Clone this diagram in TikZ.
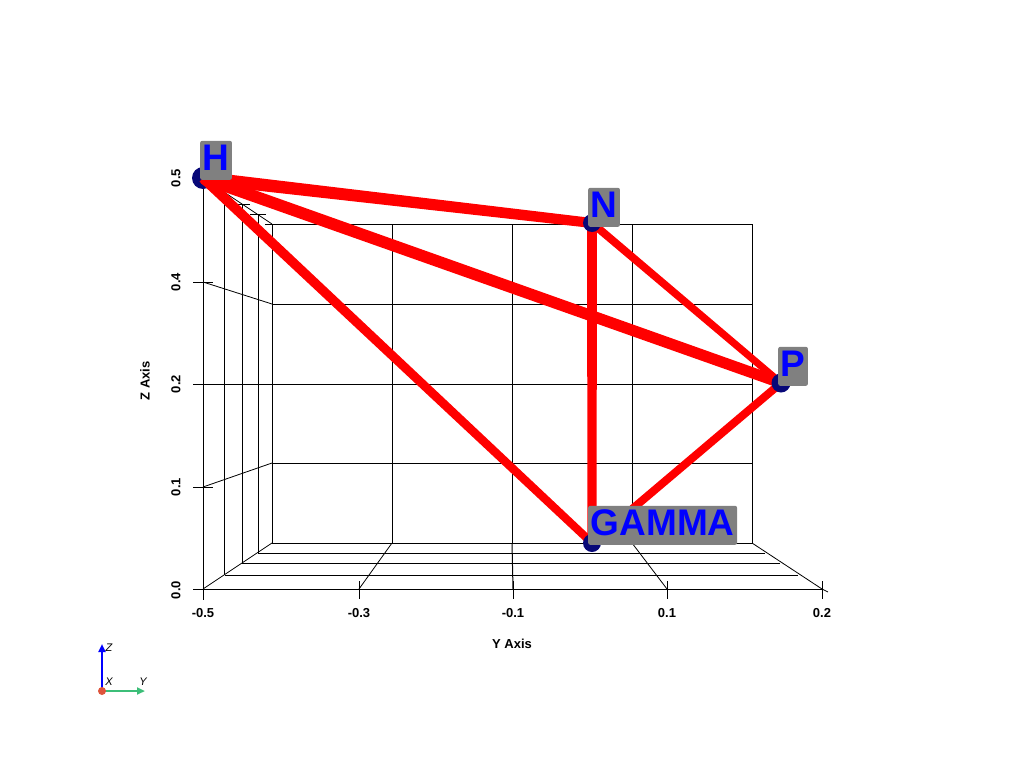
\documentclass[tikz,border=0pt]{standalone}
\usepackage{fontspec}
\setmainfont{Liberation Sans}
\usetikzlibrary{arrows.meta,calc}
\definecolor{navyball}{RGB}{8,8,120}
\definecolor{lblgray}{RGB}{128,128,128}
\definecolor{lblblue}{RGB}{0,0,255}
\definecolor{wgreen}{RGB}{60,190,120}
\definecolor{wred}{RGB}{222,84,60}
\begin{document}
\begin{tikzpicture}[x=1pt,y=-1pt,
  gridln/.style={black,line width=1pt},
  diagln/.style={black,line width=0.8pt},
  ball/.style={fill=navyball,draw=none},
  ptlabel/.style={fill=lblgray,text=lblblue,rounded corners=2pt,
    font=\fontsize{37}{37}\selectfont\bfseries,inner xsep=2.5pt,inner ysep=2pt,
    text height=28pt,text depth=7pt,anchor=south west},
  ticklbl/.style={font=\fontsize{13}{14}\selectfont\bfseries,inner sep=0pt},
  axtitle/.style={font=\fontsize{13}{14}\selectfont\bfseries,inner sep=0pt},
  wlbl/.style={font=\fontsize{11}{11}\selectfont\itshape,inner sep=0pt}]
\useasboundingbox (0,0) rectangle (1024,768);

% ---- back wall grid ----
\draw[gridln] (272,224) rectangle (752,543);
\foreach \xx in {392,512,632} \draw[gridln] (\xx,224) -- (\xx,543);
\foreach \yy in {304,384,463} \draw[gridln] (272,\yy) -- (752,\yy);

% ---- left wall grid ----
\draw[gridln] (203,178) -- (203,600);
\draw[gridln] (224,192) -- (224,575);
\draw[gridln] (242,204) -- (242,563);
\draw[gridln] (258,215) -- (258,553);
\draw[diagln] (203,178) -- (272,224);
\draw[diagln] (203,589) -- (272,543);
\draw[diagln] (203,282) -- (272,304);
\draw[gridln] (193,384) -- (272,384);
\draw[diagln] (203,487) -- (272,463);
% Z ticks
\foreach \yy in {178,282,487,589} \draw[gridln] (193,\yy) -- (213,\yy);
% X ticks
\draw[gridln] (235,204) -- (250,204);
\draw[gridln] (250,214) -- (266,214);
\draw[gridln] (265,224) -- (272,224);

% ---- floor grid ----
\draw[gridln] (258,553) -- (765,553);
\draw[gridln] (242,563) -- (780,563);
\draw[gridln] (225,575) -- (798,575);
\draw[gridln] (193,589) -- (822,589);
\draw[diagln] (392,543) -- (359,589);
\draw[gridln] (512,543) -- (513,589);
\draw[diagln] (632,543) -- (667,589);
\draw[diagln] (752,543) -- (822,589);
\draw[diagln] (822,589) -- (828,592);
% Y ticks
\foreach \xx in {359,513,667,822} \draw[gridln] (\xx,581) -- (\xx,599);

% ---- data points ----
\coordinate (H) at (203,178);
\coordinate (N) at (592,223);
\coordinate (P) at (781,383);
\coordinate (G) at (592,543);

\fill[ball] (H) circle (11);

% tapered red tubes
\newcommand{\tube}[4]{%
  \fill[red] ($(#1)!#3!90:(#2)$) -- ($(#2)!#4!-90:(#1)$) --
             ($(#2)!#4!90:(#1)$) -- ($(#1)!#3!-90:(#2)$) -- cycle;}
\tube{H}{N}{6.5pt}{5pt}
\tube{H}{P}{6pt}{5.5pt}
\tube{H}{G}{5pt}{4pt}
\tube{N}{G}{5pt}{4.5pt}
\tube{N}{P}{4pt}{3.5pt}
\tube{P}{G}{4pt}{4pt}

\fill[ball] (N) circle (9);
\fill[ball] (P) circle (9.5);
\fill[ball] (G) circle (9);

% labels
\node[ptlabel] (Hl) at (200,180) {H};
\node[ptlabel] (Nl) at (588,227) {N};
\node[ptlabel] (Pl) at (778,386) {P};
\node[ptlabel] (Gl) at (588,545) {GAMMA};

% ---- axis labels ----
\node[ticklbl] (y1) at (203,613) {-0.5};
\node[ticklbl] (y2) at (359,613) {-0.3};
\node[ticklbl] (y3) at (513,613) {-0.1};
\node[ticklbl] (y4) at (667,613) {0.1};
\node[ticklbl] (y5) at (822,613) {0.2};
\node[axtitle] (yt) at (512,644) {Y Axis};

\node[ticklbl,rotate=90] (z1) at (176,178) {0.5};
\node[ticklbl,rotate=90] (z2) at (176,282) {0.4};
\node[ticklbl,rotate=90] (z3) at (176,384) {0.2};
\node[ticklbl,rotate=90] (z4) at (176,487) {0.1};
\node[ticklbl,rotate=90] (z5) at (176,590) {0.0};
\node[axtitle,rotate=90] (zt) at (145,381) {Z Axis};

% ---- orientation widget ----
\coordinate (O) at (102,691);
\coordinate (Zend) at (102,644);
\coordinate (Yend) at (145,691);
\draw[lblblue,line width=2pt,-{Triangle[length=8pt,width=7pt]}] (O) -- (Zend);
\draw[wgreen,line width=2pt,-{Triangle[length=8pt,width=7pt]}] (O) -- (Yend);
\fill[wred] (O) circle (4);
\node[wlbl] (wz) at (109,648) {Z};
\node[wlbl] (wx) at (109,682) {X};
\node[wlbl] (wy) at (143,682) {Y};
\end{tikzpicture}
\end{document}
